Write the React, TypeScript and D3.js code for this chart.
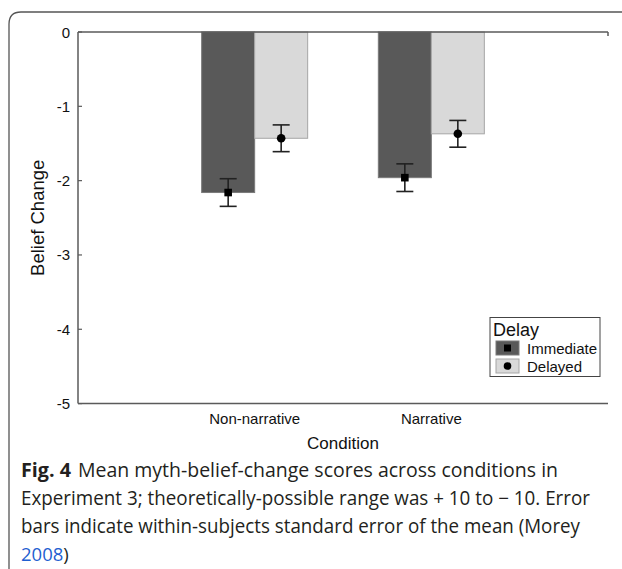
import React from "react";
import * as d3 from "d3";

const categories = ["Non-narrative", "Narrative"];
const seriesNames = ["Immediate", "Delayed"];
const immediateMeans = [-2.16, -1.96];
const delayedMeans = [-1.43, -1.37];
const immediateSE = [0.186, 0.186];
const delayedSE = [0.18, 0.18];
const yTicks = [0, -1, -2, -3, -4, -5];

const captionLines = [
  "Mean myth-belief-change scores across conditions in",
  "Experiment 3; theoretically-possible range was + 10 to \u2212 10. Error",
  "bars indicate within-subjects standard error of the mean (Morey",
];

export default function App() {
  const W = 622, H = 569;
  const left = 78, right = 608, top = 32, bottom = 403.6;
  const x = d3.scaleLinear().domain([0, categories.length + 1]).range([left, right]);
  const y = d3.scaleLinear().domain([0, -5]).range([top, bottom]);
  const barW = 0.3;
  const fills = ["#595959", "#d9d9d9"];
  const strokes = ["#7a7a7a", "#a6a6a6"];
  const means = [immediateMeans, delayedMeans];
  const ses = [immediateSE, delayedSE];
  const font = "'Liberation Sans', Arial, sans-serif";
  const axisColor = "#5a5a5a";

  return (
    <svg width={W} height={H} style={{ position: "absolute", left: 0, top: 0, background: "#fff" }} fontFamily={font}>
      {/* frame */}
      <path d={`M9,${H + 5} L9,24 Q9,12 21,12 L${W + 5},12`} fill="none" stroke="#555" strokeWidth={1.3} />
      {/* bars */}
      {categories.map((c, i) =>
        seriesNames.map((s, j) => {
          const x0 = x(i + 1 - barW + j * barW);
          const x1 = x(i + 1 + j * barW);
          const v = means[j][i];
          return (
            <rect key={c + s} x={x0} y={y(0)} width={x1 - x0} height={y(v) - y(0)}
              fill={fills[j]} stroke={strokes[j]} strokeWidth={1} />
          );
        })
      )}
      {/* axes */}
      <line x1={left} x2={right} y1={top} y2={top} stroke={axisColor} strokeWidth={1.5} />
      <line x1={left} x2={right} y1={bottom} y2={bottom} stroke={axisColor} strokeWidth={1.5} />
      <line x1={left} x2={left} y1={top} y2={bottom} stroke={axisColor} strokeWidth={1.5} />
      <line x1={right} x2={right} y1={top} y2={top + 4} stroke={axisColor} strokeWidth={1.5} />
      {yTicks.map((t) => (
        <g key={t}>
          <line x1={left} x2={left + 4} y1={y(t)} y2={y(t)} stroke={axisColor} strokeWidth={1.2} />
          <text x={left - 8} y={y(t) + 5.5} textAnchor="end" fontSize={15} fill="#111">{t}</text>
        </g>
      ))}
      {/* error bars + markers */}
      {categories.map((c, i) =>
        seriesNames.map((s, j) => {
          const cx = x(i + 1 - barW / 2 + j * barW);
          const v = means[j][i];
          const e = ses[j][i];
          const capW = 8.5;
          return (
            <g key={"e" + c + s} stroke="#222" strokeWidth={1.6}>
              <line x1={cx} x2={cx} y1={y(v + e)} y2={y(v - e)} />
              <line x1={cx - capW} x2={cx + capW} y1={y(v + e)} y2={y(v + e)} />
              <line x1={cx - capW} x2={cx + capW} y1={y(v - e)} y2={y(v - e)} />
              {j === 0 ? (
                <rect x={cx - 3.8} y={y(v) - 3.8} width={7.6} height={7.6} fill="#000" stroke="none" />
              ) : (
                <circle cx={cx} cy={y(v)} r={4.3} fill="#000" stroke="none" />
              )}
            </g>
          );
        })
      )}
      {/* category labels */}
      {categories.map((c, i) => (
        <text key={c} x={x(i + 1)} y={424} textAnchor="middle" fontSize={15} fill="#111">{c}</text>
      ))}
      <text x={(left + right) / 2} y={449} textAnchor="middle" fontSize={17} fill="#111">Condition</text>
      <text transform={`translate(44,${(top + bottom) / 2}) rotate(-90)`} textAnchor="middle" fontSize={18.5} fill="#111">Belief Change</text>
      {/* legend */}
      <rect x={490} y={317.5} width={110} height={59} fill="#fff" stroke="#444" strokeWidth={1} />
      <text x={493} y={335.5} fontSize={18} fill="#111">Delay</text>
      {seriesNames.map((s, j) => {
        const sy = 341 + j * 18;
        return (
          <g key={"l" + s}>
            <rect x={496} y={sy} width={23} height={14} fill={fills[j]} stroke={strokes[j]} strokeWidth={1} />
            {j === 0 ? (
              <rect x={507.5 - 3.5} y={sy + 7 - 3.5} width={7} height={7} fill="#000" />
            ) : (
              <circle cx={507.5} cy={sy + 7} r={3.8} fill="#000" />
            )}
            <text x={527} y={sy + 13} fontSize={15} fill="#111">{s}</text>
          </g>
        );
      })}
      {/* caption */}
      <g fontFamily="'Open Sans', 'Noto Sans', sans-serif" fontSize={19.5} fill="#231f20">
        <text x={21} y={477} fontWeight="bold" textLength={50} lengthAdjust="spacingAndGlyphs">Fig. 4</text>
        <text x={78} y={477} textLength={480} lengthAdjust="spacingAndGlyphs">{captionLines[0]}</text>
        <text x={21} y={505} textLength={569} lengthAdjust="spacingAndGlyphs">{captionLines[1]}</text>
        <text x={21} y={533} textLength={559} lengthAdjust="spacingAndGlyphs">{captionLines[2]}</text>
        <text x={21} y={561} fontSize={18.5}>
          <tspan fill="#1f5fd1">2008</tspan>
          <tspan>)</tspan>
        </text>
      </g>
    </svg>
  );
}
